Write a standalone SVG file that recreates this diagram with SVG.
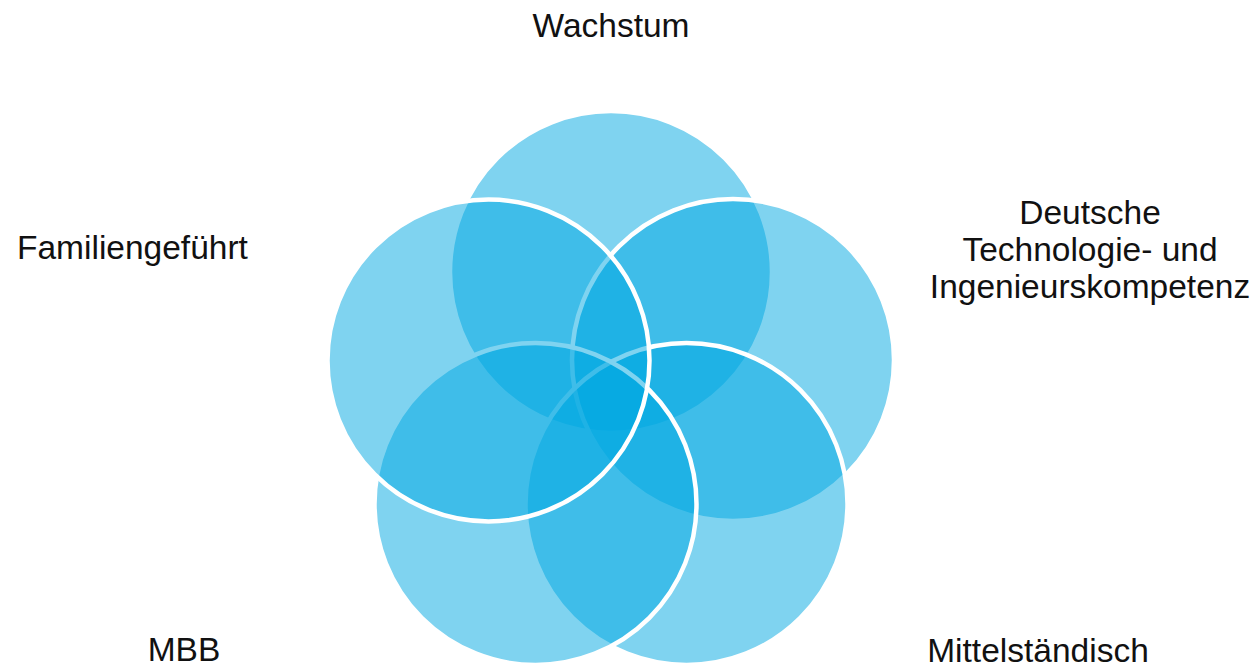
<svg xmlns="http://www.w3.org/2000/svg" width="1259" height="667" viewBox="0 0 1259 667">
<style>
.c{fill:#00a7e1;fill-opacity:0.5;stroke:#fff;stroke-width:4.5}
.t{font-family:"Liberation Sans",Arial,sans-serif;font-size:33.5px;fill:#111}
</style>
<rect width="1259" height="667" fill="#fff"/>
<g id="wachstum"><circle class="c" cx="611" cy="272" r="161"/><text class="t" x="611" y="37" text-anchor="middle">Wachstum</text></g>
<g id="deutsche"><circle class="c" cx="733" cy="360" r="161"/><text class="t" text-anchor="middle"><tspan x="1090" y="224">Deutsche</tspan><tspan x="1090" y="261">Technologie- und</tspan><tspan x="1090" y="298">Ingenieurskompetenz</tspan></text></g>
<g id="mittelstaendisch"><circle class="c" cx="686.5" cy="504" r="161"/><text class="t" x="1038" y="662" text-anchor="middle">Mittelständisch</text></g>
<g id="mbb"><circle class="c" cx="535.5" cy="504" r="161"/><text class="t" x="184" y="661" text-anchor="middle">MBB</text></g>
<g id="familiengefuehrt"><circle class="c" cx="488.5" cy="360.5" r="161"/><text class="t" x="17" y="259">Familiengeführt</text></g>
<g id="connectors"/>
</svg>
